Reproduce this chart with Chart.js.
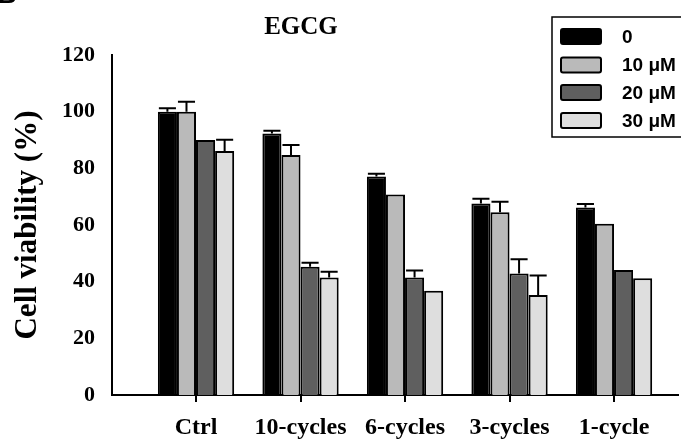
<!DOCTYPE html>
<html>
<head>
<meta charset="utf-8">
<script src="https://cdn.jsdelivr.net/npm/chart.js@4.4.1/dist/chart.umd.min.js"></script>
<style>
  html, body { margin: 0; padding: 0; background: #fff; }
  #wrap { width: 681px; height: 439px; position: relative; }
</style>
</head>
<body>
<div id="wrap"><canvas id="c" width="681" height="439"></canvas></div>
<script>
// Groups along the x axis
const categories = ['Ctrl', '10-cycles', '6-cycles', '3-cycles', '1-cycle'];
// EGCG concentrations (legend labels)
const seriesLabels = ['0', '10 \u03bcM', '20 \u03bcM', '30 \u03bcM'];
const seriesColors = ['#000000', '#bababa', '#5f5f5f', '#dedede'];

// Mean cell viability (%) per concentration
const viability0  = [100.0, 92.3, 77.1, 67.6, 66.2];
const viability10 = [100.0, 84.7, 70.8, 64.5, 60.4];
const viability20 = [90.0, 45.3, 41.5, 42.9, 44.1];
const viability30 = [86.1, 41.5, 36.8, 35.3, 41.2];

// Upper error (SD) per concentration
const error0  = [1.2, 1.0, 1.0, 1.7, 1.2];
const error10 = [3.5, 3.5, 0.0, 3.7, 0.0];
const error20 = [0.0, 1.4, 2.4, 5.0, 0.0];
const error30 = [4.0, 2.0, 0.0, 6.9, 0.0];

const yTicks = [0, 20, 40, 60, 80, 100, 120];

const values = [viability0, viability10, viability20, viability30];
const errors = [error0, error10, error20, error30];

const serif = "'Liberation Serif', 'Times New Roman', serif";
const sans = "'Liberation Sans', Arial, sans-serif";

const datasets = values.map((vals, s) => ({
  label: seriesLabels[s],
  data: vals.map((v, i) => ({ x: i, y: v })),
  errors: errors[s],
  backgroundColor: seriesColors[s],
  borderColor: '#000',
  borderWidth: 2,
  borderSkipped: 'bottom',
  categoryPercentage: 0.73,
  barPercentage: 1.0
}));

// One-sided (upper) error bars with caps
const errorBars = {
  id: 'errorBars',
  afterDatasetsDraw(chart) {
    const ctx = chart.ctx;
    const y = chart.scales.y;
    ctx.save();
    ctx.strokeStyle = '#000';
    ctx.lineWidth = 2;
    chart.data.datasets.forEach((ds, di) => {
      const meta = chart.getDatasetMeta(di);
      meta.data.forEach((bar, i) => {
        const e = ds.errors[i];
        if (!e) return;
        const top = y.getPixelForValue(ds.data[i].y + e);
        const half = bar.width / 2 - 1;
        ctx.beginPath();
        ctx.moveTo(bar.x, bar.y);
        ctx.lineTo(bar.x, top);
        ctx.moveTo(bar.x - half, top);
        ctx.lineTo(bar.x + half, top);
        ctx.stroke();
      });
    });
    ctx.restore();
  }
};

// Short tick marks under the x axis at each group centre
const groupTicks = {
  id: 'groupTicks',
  afterDraw(chart) {
    const ctx = chart.ctx;
    const x = chart.scales.x;
    const base = chart.chartArea.bottom;
    ctx.save();
    ctx.fillStyle = '#000';
    categories.forEach((_, i) => {
      const px = Math.round(x.getPixelForValue(i));
      ctx.fillRect(px - 1, base, 2, 7);
    });
    ctx.restore();
  }
};

// Title, panel letter and boxed legend
const decorations = {
  id: 'decorations',
  afterDraw(chart) {
    const ctx = chart.ctx;
    ctx.save();
    ctx.fillStyle = '#000';
    ctx.textAlign = 'center';
    ctx.textBaseline = 'middle';
    ctx.font = 'bold 25px ' + serif;
    ctx.fillText('EGCG', 301, 28);

    ctx.textAlign = 'left';
    ctx.textBaseline = 'alphabetic';
    ctx.font = 'bold 26px ' + sans;
    ctx.fillText('B', -2, 3);

    // legend frame
    ctx.strokeStyle = '#000';
    ctx.lineWidth = 1.5;
    ctx.strokeRect(552, 17, 140, 120);

    const rowY = [36.5, 65, 92.5, 120.5];
    chart.data.datasets.forEach((ds, i) => {
      const cy = rowY[i];
      ctx.beginPath();
      if (ctx.roundRect) ctx.roundRect(561, cy - 7.5, 40, 15, 2);
      else ctx.rect(561, cy - 7.5, 40, 15);
      ctx.fillStyle = ds.backgroundColor;
      ctx.fill();
      ctx.lineWidth = 2;
      ctx.stroke();
      ctx.fillStyle = '#000';
      ctx.font = 'bold 19px ' + sans;
      ctx.textBaseline = 'middle';
      ctx.fillText(ds.label, 622, cy + 1);
    });
    ctx.restore();
  }
};

new Chart(document.getElementById('c'), {
  type: 'bar',
  data: { datasets },
  options: {
    responsive: false,
    animation: false,
    layout: { padding: { left: 0, top: 55, right: 3, bottom: 0 } },
    plugins: { legend: { display: false }, title: { display: false }, tooltip: { enabled: false } },
    scales: {
      x: {
        type: 'linear',
        min: -0.804,
        max: 4.612,
        offset: false,
        afterFit(s) { s.height = 44; },
        afterBuildTicks(s) { s.ticks = categories.map((_, i) => ({ value: i })); },
        ticks: {
          includeBounds: false,
          autoSkip: false,
          maxRotation: 0,
          padding: 18,
          color: '#000',
          font: { family: serif, size: 24, weight: 'bold' },
          callback: (v) => categories[v]
        },
        grid: { display: false, drawTicks: false },
        border: { display: true, color: '#000', width: 2 }
      },
      y: {
        min: 0,
        max: 120,
        afterFit(s) { s.width = 112; },
        afterBuildTicks(s) { s.ticks = yTicks.map(v => ({ value: v })); },
        ticks: {
          padding: 17,
          color: '#000',
          font: { family: serif, size: 22, weight: 'bold' }
        },
        grid: { display: false, drawTicks: false },
        border: { display: true, color: '#000', width: 2 },
        title: {
          display: true,
          text: 'Cell viability (%)',
          color: '#000',
          font: { family: serif, size: 31, weight: 'bold' },
          padding: { top: 9, bottom: 0 }
        }
      }
    }
  },
  plugins: [errorBars, groupTicks, decorations]
});
</script>
</body>
</html>
